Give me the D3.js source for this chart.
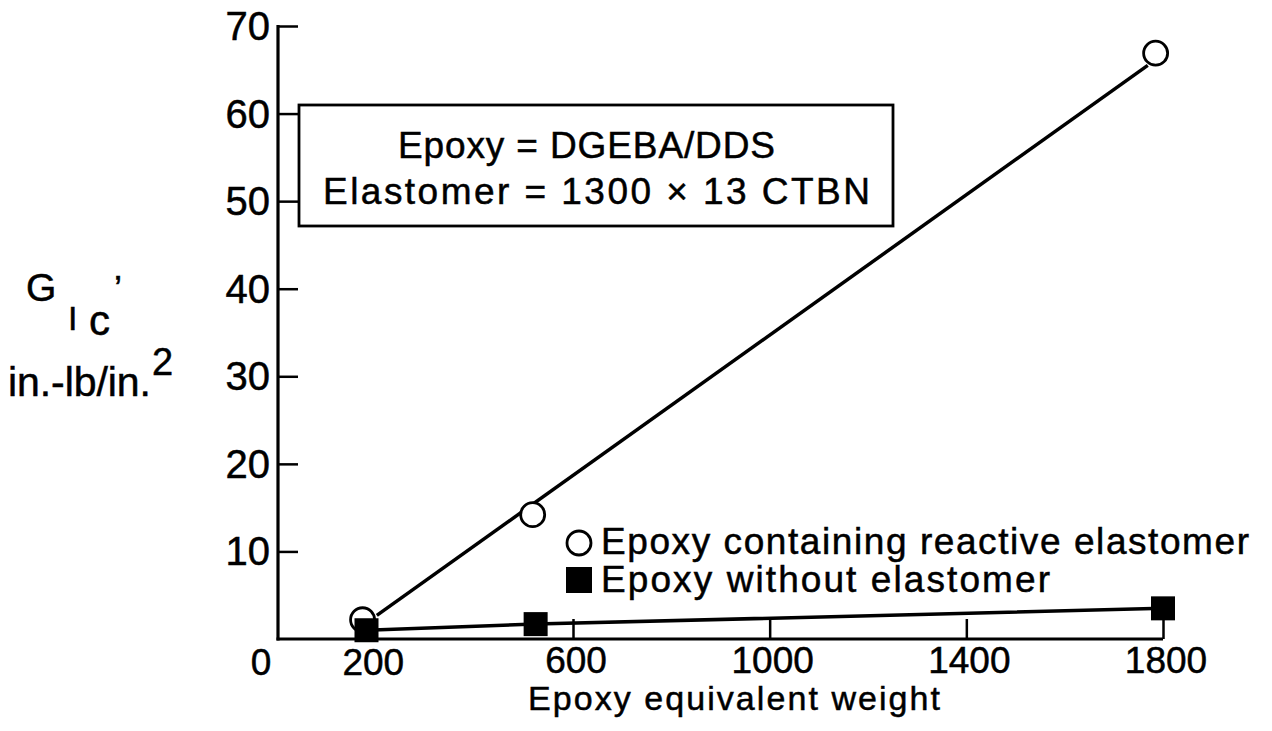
<!DOCTYPE html>
<html>
<head>
<meta charset="utf-8">
<script src="https://cdn.jsdelivr.net/npm/d3@7"></script>
<style>
  body { margin: 0; background: #fff; }
  svg text { font-family: "Liberation Sans", Arial, sans-serif; fill: #000; stroke: #000; stroke-width: 0.5px; }
</style>
</head>
<body>
<div class="container"></div>
<script>
/********** the Data **********/
// epoxy equivalent weight vs G_Ic (in.-lb/in.^2)
let reactiveEEW = [172, 518, 1785];
let reactiveGIc = [2.2, 14.2, 66.9];
let plainEEW = [180, 524, 1800];
let plainGIc = [1.0, 1.7, 3.5];
// hand drawn fit line through the reactive points (end points, at circle edges)
let fitEEW = [201, 1769];
let fitGIc = [2.7, 65.5];

let xTicks = [600, 1000, 1400, 1800];
let xTickLabels = ["600", "1000", "1400", "1800"];
let yTicks = [10, 20, 30, 40, 50, 60, 70];

let legendLabels = ["Epoxy containing reactive elastomer", "Epoxy without elastomer"];
let boxLines = ["Epoxy = DGEBA/DDS", "Elastomer = 1300 \u00d7 13 CTBN"];

/********** drawChart **********/
function drawChart() {
  let width = 1272, height = 731;

  let xScale = d3.scaleLinear().domain([0, 1800]).range([278, 1163]);
  let yScale = d3.scaleLinear().domain([0, 70]).range([639, 26]);

  let svg = d3.select(".container").append("svg")
    .attr("width", width)
    .attr("height", height);

  /* axes: ticks point inward */
  let yAxis = d3.axisRight(yScale).tickValues(yTicks).tickSize(20).tickFormat("");
  let gy = svg.append("g").attr("class", "y-axis")
    .attr("transform", `translate(${xScale(0)},0)`)
    .call(yAxis);
  gy.select(".domain").remove();
  gy.selectAll("line").attr("stroke", "#000").attr("stroke-width", 2.5);

  let xAxis = d3.axisTop(xScale).tickValues(xTicks).tickSize(20).tickFormat("");
  let gx = svg.append("g").attr("class", "x-axis")
    .attr("transform", `translate(0,${yScale(0)})`)
    .call(xAxis);
  gx.select(".domain").remove();
  gx.selectAll("line").attr("stroke", "#000").attr("stroke-width", 2.5);

  // axis lines
  svg.append("line")
    .attr("x1", xScale(0)).attr("x2", xScale(0))
    .attr("y1", yScale(70) - 1).attr("y2", yScale(0) + 1.5)
    .attr("stroke", "#000").attr("stroke-width", 3.2);
  svg.append("line")
    .attr("x1", xScale(0) - 1.5).attr("x2", xScale(1800))
    .attr("y1", yScale(0)).attr("y2", yScale(0))
    .attr("stroke", "#000").attr("stroke-width", 3.2);

  // tick labels
  svg.selectAll(".ytl").data(yTicks).enter().append("text")
    .attr("class", "ytl")
    .attr("x", xScale(0) - 8)
    .attr("y", d => yScale(d) + 14)
    .attr("text-anchor", "end")
    .attr("font-size", 40)
    .text(d => d);

  svg.selectAll(".xtl").data(xTicks).enter().append("text")
    .attr("class", "xtl")
    .attr("x", d => xScale(d) + 3)
    .attr("y", yScale(0) + 34)
    .attr("text-anchor", "middle")
    .attr("font-size", 37)
    .text((d, i) => xTickLabels[i]);
  svg.append("text")
    .attr("x", xScale(200) - 3).attr("y", yScale(0) + 36)
    .attr("text-anchor", "middle").attr("font-size", 37).text("200");
  svg.append("text")
    .attr("x", 261).attr("y", yScale(0) + 36)
    .attr("text-anchor", "middle").attr("font-size", 37).text("0");

  // axis titles
  svg.append("text")
    .attr("x", 528).attr("y", 710)
    .attr("font-size", 34)
    .attr("textLength", 412).attr("lengthAdjust", "spacing")
    .text("Epoxy equivalent weight");

  let yl = svg.append("g").attr("class", "y-label");
  yl.append("text").attr("x", 26).attr("y", 301).attr("font-size", 39).text("G");
  yl.append("text").attr("x", 68).attr("y", 330).attr("font-size", 34).text("I");
  yl.append("text").attr("x", 89).attr("y", 335).attr("font-size", 42).text("c");
  yl.append("text").attr("x", 114).attr("y", 302).attr("font-size", 36).text("\u2019");
  yl.append("text").attr("x", 8).attr("y", 396).attr("font-size", 41)
    .attr("textLength", 143).attr("lengthAdjust", "spacing").text("in.-lb/in.");
  yl.append("text").attr("x", 152).attr("y", 375).attr("font-size", 38).text("2");

  /* lines */
  let line = d3.line().x(d => xScale(d[0])).y(d => yScale(d[1]));
  svg.append("path")
    .datum(fitEEW.map((d, i) => [d, fitGIc[i]]))
    .attr("d", line)
    .attr("fill", "none").attr("stroke", "#000").attr("stroke-width", 3.5);
  svg.append("path")
    .datum(plainEEW.map((d, i) => [d, plainGIc[i]]))
    .attr("d", line)
    .attr("fill", "none").attr("stroke", "#000").attr("stroke-width", 3.5);

  /* markers */
  svg.selectAll(".ci").data(reactiveEEW).enter().append("circle")
    .attr("class", "ci")
    .attr("cx", d => xScale(d))
    .attr("cy", (d, i) => yScale(reactiveGIc[i]))
    .attr("r", 12)
    .attr("fill", "#fff")
    .attr("stroke", "#000").attr("stroke-width", 2.8);
  svg.selectAll(".sq").data(plainEEW).enter().append("rect")
    .attr("class", "sq")
    .attr("x", d => xScale(d) - 12)
    .attr("y", (d, i) => yScale(plainGIc[i]) - 12)
    .attr("width", 24).attr("height", 24)
    .attr("fill", "#000");

  /* info box */
  svg.append("rect")
    .attr("x", 299).attr("y", 105)
    .attr("width", 594).attr("height", 121)
    .attr("fill", "#fff").attr("stroke", "#000").attr("stroke-width", 2.8);
  svg.append("text").attr("x", 398).attr("y", 158)
    .attr("font-size", 37)
    .attr("textLength", 377).attr("lengthAdjust", "spacing")
    .text(boxLines[0]);
  svg.append("text").attr("x", 323).attr("y", 204)
    .attr("font-size", 37)
    .attr("textLength", 547).attr("lengthAdjust", "spacing")
    .text(boxLines[1]);

  /* legend */
  svg.append("circle").attr("cx", 579).attr("cy", 543).attr("r", 12)
    .attr("fill", "none").attr("stroke", "#000").attr("stroke-width", 2.8);
  svg.append("text").attr("x", 601).attr("y", 554).attr("font-size", 37)
    .attr("textLength", 648).attr("lengthAdjust", "spacing").text(legendLabels[0]);
  svg.append("rect").attr("x", 566).attr("y", 567).attr("width", 26).attr("height", 26)
    .attr("fill", "#000");
  svg.append("text").attr("x", 601).attr("y", 592).attr("font-size", 37)
    .attr("textLength", 449).attr("lengthAdjust", "spacing").text(legendLabels[1]);
}

drawChart();
</script>
</body>
</html>
